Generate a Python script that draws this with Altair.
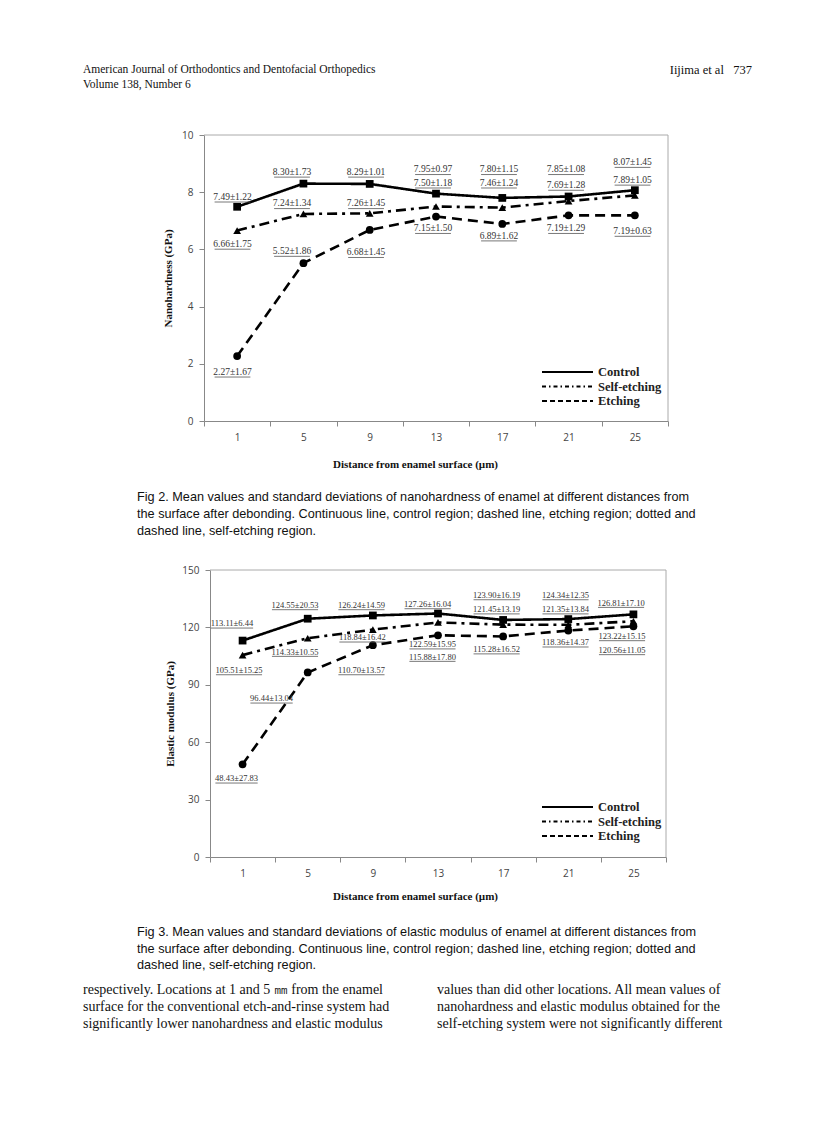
import altair as alt
import pandas as pd

# ---------------- data ----------------
dist = [1, 5, 9, 13, 17, 21, 25]
series = ["Control", "Self-etching", "Etching"]

# Fig 2 – nanohardness (GPa)
nh_control = [7.49, 8.30, 8.29, 7.95, 7.80, 7.85, 8.07]
nh_control_sd = [1.22, 1.73, 1.01, 0.97, 1.15, 1.08, 1.45]
nh_self = [6.66, 7.24, 7.26, 7.50, 7.46, 7.69, 7.89]
nh_self_sd = [1.75, 1.34, 1.45, 1.18, 1.24, 1.28, 1.05]
nh_etch = [2.27, 5.52, 6.68, 7.15, 6.89, 7.19, 7.19]
nh_etch_sd = [1.67, 1.86, 1.45, 1.50, 1.62, 1.29, 0.63]
nh_yticks = [0, 2, 4, 6, 8, 10]

# Fig 3 – elastic modulus (GPa)
em_control = [113.11, 124.55, 126.24, 127.26, 123.90, 124.34, 126.81]
em_control_sd = [6.44, 20.53, 14.59, 16.04, 16.19, 12.35, 17.10]
em_self = [105.51, 114.33, 118.84, 122.59, 121.45, 121.35, 123.22]
em_self_sd = [15.25, 10.55, 16.42, 15.95, 13.19, 13.84, 15.15]
em_etch = [48.43, 96.44, 110.70, 115.88, 115.28, 118.36, 120.56]
em_etch_sd = [27.83, 13.04, 13.57, 17.80, 16.52, 14.37, 11.05]
em_yticks = [0, 30, 60, 90, 120, 150]

# data-label anchor positions (data units), as placed in the figure
nh_lab_x = [0.72, 4.31, 8.78, 12.82, 16.80, 20.85, 24.86]
nh_lab_y_control = [7.84, 8.71, 8.71, 8.80, 8.80, 8.80, 9.05]
nh_lab_y_self = [6.19, 7.61, 7.61, 8.33, 8.33, 8.25, 8.43]
nh_lab_y_etch = [1.72, 5.94, 5.90, 6.74, 6.48, 6.74, 6.64]

em_lab_x_control = [0.35, 4.22, 8.30, 12.36, 16.60, 20.83, 24.24]
em_lab_y_control = [122.1, 131.7, 131.7, 132.2, 136.9, 136.9, 132.9]
em_lab_x_self = [0.78, 4.22, 8.36, 12.66, 16.60, 20.83, 24.30]
em_lab_y_self = [97.7, 107.3, 114.8, 111.2, 129.5, 129.5, 115.5]
em_lab_x_etch = [0.63, 2.78, 8.30, 12.66, 16.60, 20.83, 24.30]
em_lab_y_etch = [41.1, 82.9, 97.7, 104.7, 108.6, 112.2, 108.2]

# page text
header_left = ["American Journal of Orthodontics and Dentofacial Orthopedics",
               "Volume 138, Number 6"]
header_right = "Iijima et al\u00a0\u00a0\u00a0737"
caption2 = ["Fig 2.  Mean values and standard deviations of nanohardness of enamel at different distances from",
            "the surface after debonding. Continuous line, control region; dashed line, etching region; dotted and",
            "dashed line, self-etching region."]
caption3 = ["Fig 3.  Mean values and standard deviations of elastic modulus of enamel at different distances from",
            "the surface after debonding. Continuous line, control region; dashed line, etching region; dotted and",
            "dashed line, self-etching region."]
body_left = ["respectively. Locations at 1 and 5 \u339c from the enamel",
             "surface for the conventional etch-and-rinse system had",
             "significantly lower nanohardness and elastic modulus"]
body_right = ["values than did other locations. All mean values of",
              "nanohardness and elastic modulus obtained for the",
              "self-etching system were not significantly different"]

x_ticks = [d - 2 for d in dist] + [dist[-1] + 2]
dashes = [[1, 0], [10, 5, 3, 5], [10, 6]]
leg_dashes = [None, [4, 3, 1.5, 3], [5, 3]]
shapes = ["square", "triangle-up", "circle"]

one = pd.DataFrame({"a": [0]})
SERIF = "Liberation Serif"
SANS = "Liberation Sans"
TICKFONT = "Open Sans"


def text_block(lines, x, y, font, size, lh, align="left", weight="normal", color="#111"):
    return alt.Chart(one).mark_text(
        text=lines, align=align, baseline="top", lineHeight=lh, font=font,
        fontSize=size, fontWeight=weight, color=color
    ).encode(x=alt.value(x), y=alt.value(y))


def panel(means, sds, labx, laby, ydom, yvals, ytitle, w, h, x0, lab_fs, k,
          ytitle_pad, xtitle_pad, extra):
    rows = []
    for s in series:
        for i, d in enumerate(dist):
            rows.append({"series": s, "dist": d, "value": means[s][i],
                         "lx": labx[s][i], "ly": laby[s][i],
                         "label": f"{means[s][i]:.2f}\u00b1{sds[s][i]:.2f}"})
    df = pd.DataFrame(rows)
    half = (w - x0) / 14.0
    xs = alt.Scale(domain=[-1, 27], range=[x0, w], nice=False, zero=False)
    ys = alt.Scale(domain=ydom, nice=False)
    xaxis = alt.Axis(values=x_ticks,
                     labelExpr="datum.value >= 27 ? '' : '' + (datum.value + 2)",
                     labelOffset=half, labelFlush=False, tickSize=5, tickColor="#888",
                     domainColor="#888", labelColor="#444", labelFont=TICKFONT,
                     labelFontSize=10, labelPadding=6, grid=False,
                     title="Distance from enamel surface (\u00b5m)", titleFont=SERIF,
                     titleFontSize=11, titleFontWeight="bold", titleColor="#111",
                     titleX=211, titlePadding=xtitle_pad)
    yaxis = alt.Axis(values=yvals, tickSize=5, tickColor="#888", domainColor="#888",
                     labelColor="#444", labelFont=TICKFONT, labelFontSize=10,
                     labelPadding=6, labelFlush=False, grid=False, offset=-x0,
                     title=ytitle, titleFont=SERIF, titleFontSize=11,
                     titleFontWeight="bold", titleColor="#111", titlePadding=ytitle_pad)
    base = alt.Chart(df)
    lines = base.mark_line(color="black", strokeWidth=2.6, strokeCap="butt").encode(
        x=alt.X("dist:Q", scale=xs, axis=xaxis),
        y=alt.Y("value:Q", scale=ys, axis=yaxis),
        strokeDash=alt.StrokeDash("series:N", scale=alt.Scale(domain=series, range=dashes), legend=None),
    )
    pts = base.mark_point(filled=True, color="black", opacity=1, size=60).encode(
        x=alt.X("dist:Q", scale=xs, axis=xaxis),
        y=alt.Y("value:Q", scale=ys, axis=yaxis),
        shape=alt.Shape("series:N", scale=alt.Scale(domain=series, range=shapes), legend=None),
    )
    under = base.transform_calculate(
        u1=f"datum.lx - length(datum.label) * {k}",
        u2=f"datum.lx + length(datum.label) * {k}",
    ).mark_rule(color="#555", strokeWidth=0.8, yOffset=lab_fs * 0.55).encode(
        x=alt.X("u1:Q", scale=xs, axis=xaxis), x2="u2:Q",
        y=alt.Y("ly:Q", scale=ys, axis=yaxis),
    )
    labels = base.mark_text(font=SERIF, fontSize=lab_fs, color="#333").encode(
        x=alt.X("lx:Q", scale=xs, axis=xaxis),
        y=alt.Y("ly:Q", scale=ys, axis=yaxis),
        text="label:N",
    )
    border_top = alt.Chart(one).mark_rule(color="#aaa", strokeWidth=1).encode(
        x=alt.value(x0), x2=alt.value(w), y=alt.value(0))
    border_right = alt.Chart(one).mark_rule(color="#aaa", strokeWidth=1).encode(
        x=alt.value(w), y=alt.value(0), y2=alt.value(h))
    leg = []
    for i, s in enumerate(series):
        yy = 237 + i * 14.5
        kw = dict(color="black", strokeWidth=2)
        if leg_dashes[i] is not None:
            kw["strokeDash"] = leg_dashes[i]
        leg.append(alt.Chart(one).mark_rule(**kw).encode(
            x=alt.value(338), x2=alt.value(389), y=alt.value(yy)))
        leg.append(alt.Chart(one).mark_text(
            text=s, align="left", baseline="middle", font=SERIF, fontSize=12.5,
            fontWeight="bold", color="#222").encode(x=alt.value(394), y=alt.value(yy)))
    return alt.layer(border_top, border_right, lines, pts, under, labels, *leg, *extra).properties(
        width=w, height=h)


nh_means = {"Control": nh_control, "Self-etching": nh_self, "Etching": nh_etch}
nh_sds = {"Control": nh_control_sd, "Self-etching": nh_self_sd, "Etching": nh_etch_sd}
nh_lx = {s: nh_lab_x for s in series}
nh_ly = {"Control": nh_lab_y_control, "Self-etching": nh_lab_y_self, "Etching": nh_lab_y_etch}

em_means = {"Control": em_control, "Self-etching": em_self, "Etching": em_etch}
em_sds = {"Control": em_control_sd, "Self-etching": em_self_sd, "Etching": em_etch_sd}
em_lx = {"Control": em_lab_x_control, "Self-etching": em_lab_x_self, "Etching": em_lab_x_etch}
em_ly = {"Control": em_lab_y_control, "Self-etching": em_lab_y_self, "Etching": em_lab_y_etch}

extra1 = [
    text_block(header_left, -121, -71, SERIF, 11.5, 15),
    text_block([header_right], 548, -71, SERIF, 12.5, 15, align="right"),
    text_block(caption2, -67, 356, SANS, 12.7, 17),
]
extra2 = [
    text_block(caption3, -67, 356, SANS, 12.7, 16.5),
    text_block(body_left, -121, 413, SERIF, 14, 17),
    text_block(body_right, 233, 413, SERIF, 14, 17),
]

c1 = panel(nh_means, nh_sds, nh_lx, nh_ly, [0, 10], nh_yticks, "Nanohardness (GPa)",
           464, 286, 0, 9.5, 0.12, 8, 16, extra1)
c2 = panel(em_means, em_sds, em_lx, em_ly, [0, 150], em_yticks, "Elastic modulus (GPa)",
           462, 287, 6, 8.5, 0.118, 6, 12, extra2)

chart = alt.vconcat(c1, c2, spacing=149, bounds="flush").resolve_scale(
    x="independent", y="independent", strokeDash="independent", shape="independent"
).properties(
    padding={"left": 75, "top": 56, "right": 10, "bottom": 10}
).configure_view(stroke=None)

chart.save("out.html", embed_options={"renderer": "svg", "actions": False})
